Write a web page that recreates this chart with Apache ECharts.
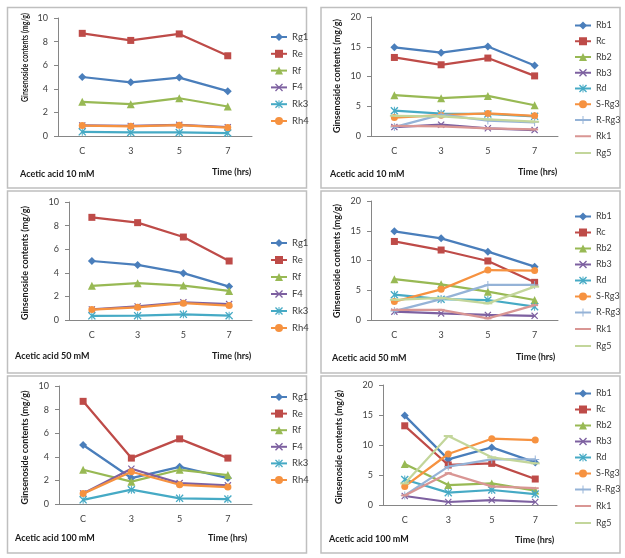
<!DOCTYPE html>
<html><head><meta charset="utf-8">
<script src="https://cdn.jsdelivr.net/npm/echarts@6/dist/echarts.min.js"></script>
<style>html,body{margin:0;padding:0;background:#fff}#c{width:625px;height:558px}</style>
</head><body><div id="c"></div>
<script>
// ---------- DATA ----------
const categories = ['C', '3', '5', '7'];
const namesA = ['Rg1', 'Re', 'Rf', 'F4', 'Rk3', 'Rh4'];
const namesB = ['Rb1', 'Rc', 'Rb2', 'Rb3', 'Rd', 'S-Rg3', 'R-Rg3', 'Rk1', 'Rg5'];
const ticksA = [0, 2, 4, 6, 8, 10];
const ticksB = [0, 5, 10, 15, 20];

// Acetic acid 10 mM (rows follow namesA)
const protopanaxatriol10 = [
  [5.0, 4.55, 4.95, 3.8],
  [8.7, 8.1, 8.65, 6.8],
  [2.9, 2.7, 3.2, 2.5],
  [0.9, 0.85, 0.95, 0.75],
  [0.35, 0.3, 0.3, 0.25],
  [0.88, 0.82, 0.92, 0.72]
];
// Acetic acid 50 mM
const protopanaxatriol50 = [
  [5.0, 4.67, 3.97, 2.83],
  [8.7, 8.25, 7.03, 5.0],
  [2.9, 3.12, 2.92, 2.46],
  [0.9, 1.15, 1.5, 1.35],
  [0.35, 0.37, 0.48, 0.37],
  [0.88, 1.08, 1.42, 1.22]
];
// Acetic acid 100 mM
const protopanaxatriol100 = [
  [5.0, 2.2, 3.15, 2.2],
  [8.7, 3.89, 5.52, 3.89],
  [2.9, 1.89, 2.9, 2.45],
  [0.9, 2.99, 1.77, 1.58],
  [0.35, 1.21, 0.48, 0.42],
  [0.88, 2.73, 1.63, 1.44]
];
// Acetic acid 10 mM (rows follow namesB)
const protopanaxadiol10 = [
  [14.9, 14.0, 15.05, 11.85],
  [13.2, 11.97, 13.1, 10.1],
  [6.85, 6.35, 6.74, 5.17],
  [1.5, 1.9, 1.3, 1.0],
  [4.25, 3.75, 3.7, 3.3],
  [3.1, 3.5, 3.8, 3.4],
  [1.5, 3.6, 2.6, 2.3],
  [1.7, 1.6, 1.3, 1.1],
  [3.4, 3.3, 2.8, 2.4]
];
// Acetic acid 50 mM
const protopanaxadiol50 = [
  [14.9, 13.73, 11.49, 8.96],
  [13.2, 11.76, 9.92, 6.33],
  [6.85, 5.99, 4.76, 3.36],
  [1.4, 1.1, 0.85, 0.7],
  [4.25, 3.5, 3.36, 2.24],
  [3.1, 5.15, 8.4, 8.3],
  [1.5, 3.5, 5.9, 5.9],
  [1.7, 1.7, 0.28, 2.5],
  [3.4, 3.7, 2.8, 5.6]
];
// Acetic acid 100 mM
const protopanaxadiol100 = [
  [14.9, 7.6, 9.6, 7.1],
  [13.2, 6.67, 6.94, 4.33],
  [6.85, 3.33, 3.6, 2.4],
  [1.5, 0.5, 0.83, 0.5],
  [4.25, 2.06, 2.5, 1.83],
  [3.1, 8.5, 11.05, 10.83],
  [1.6, 6.4, 7.6, 7.6],
  [1.6, 5.3, 3.1, 2.8],
  [3.6, 11.5, 7.94, 6.94]
];
const panelLabels = ['Acetic acid 10 mM', 'Acetic acid 10 mM', 'Acetic acid 50 mM', 'Acetic acid 50 mM', 'Acetic acid 100 mM', 'Acetic acid 100 mM'];
const yTitle = 'Ginsenoside contents (mg/g)';
const xTitle = 'Time (hrs)';

// ---------- STYLE / LAYOUT ----------
const FONT = 'Lato';
const colors = ['#4A7EBB', '#BE4B48', '#98B954', '#7D60A0', '#46AAC5', '#F69240', '#95B3D7', '#D99694', '#C3D69B'];
const X = 'path://M0,1.2 L1.2,0 L5,3.8 L8.8,0 L10,1.2 L6.2,5 L10,8.8 L8.8,10 L5,6.2 L1.2,10 L0,8.8 L3.8,5 Z';
const AST = 'path://M0,1.2 L1.2,0 L5,3.8 L8.8,0 L10,1.2 L6.2,5 L10,8.8 L8.8,10 L5,6.2 L1.2,10 L0,8.8 L3.8,5 Z M4.4,0 L5.6,0 L5.6,10 L4.4,10 Z';
const PLUS = 'path://M4.4,0 L5.6,0 L5.6,4.4 L10,4.4 L10,5.6 L5.6,5.6 L5.6,10 L4.4,10 L4.4,5.6 L0,5.6 L0,4.4 L4.4,4.4 Z';
const DASH = 'path://M0,0 L10,0 L10,2 L0,2 Z';
const LINEICON = 'path://M0,0 L0.01,0 Z M0,3.9 L16,3.9 L16,6.1 L0,6.1 Z M0,10 L0.01,10 Z';
const symbols = ['diamond', 'rect', 'triangle', X, AST, 'circle', PLUS, DASH, DASH];
const symSizes = [8, 7, 8, 7, 8, 7, 8, [7, 2], [9, 2]];

const panels = [
  { data: protopanaxatriol10, names: namesA, ticks: ticksA,
    grid: { left: 58, top: 18, width: 194, height: 118 }, leg: { left: 265, top: 27, gap: 6.8, fs: 9.5 },
    yname: [25, 57.5, 0.78], lab: [20, 174], time: [212, 172] },
  { data: protopanaxadiol10, names: namesB, ticks: ticksB,
    grid: { left: 371, top: 17, width: 187, height: 119 }, leg: { left: 569, top: 16, gap: 6.75, fs: 9 },
    yname: [337, 76, 1], lab: [330, 174], time: [518, 172] },
  { data: protopanaxatriol50, names: namesA, ticks: ticksA,
    grid: { left: 69, top: 202, width: 183, height: 118 }, leg: { left: 265, top: 233, gap: 7, fs: 9.5 },
    yname: [25, 263, 1], lab: [15, 356], time: [212, 356] },
  { data: protopanaxadiol50, names: namesB, ticks: ticksB,
    grid: { left: 371, top: 201, width: 187, height: 119 }, leg: { left: 569, top: 207, gap: 7, fs: 9 },
    yname: [337, 261, 1], lab: [332, 358], time: [516, 357] },
  { data: protopanaxatriol100, names: namesA, ticks: ticksA,
    grid: { left: 59, top: 386, width: 193, height: 118 }, leg: { left: 265, top: 387, gap: 6.6, fs: 9.5 },
    yname: [25, 447.5, 1], lab: [15, 538], time: [208, 538] },
  { data: protopanaxadiol100, names: namesB, ticks: ticksB,
    grid: { left: 383, top: 385, width: 174, height: 120 }, leg: { left: 569, top: 384, gap: 7, fs: 9 },
    yname: [339, 447, 1], lab: [329, 539], time: [515, 540] }
];

const boxes = [
  [7.5, 7.5, 299, 180.5], [321, 7.5, 299, 180.5],
  [7.5, 191, 299, 182], [321, 191, 299, 182],
  [7.5, 376, 299, 177], [321, 376, 299, 177]
];

const grid = [], xAxis = [], yAxis = [], series = [], legend = [], graphic = [];
boxes.forEach(b => graphic.push({ type: 'rect', shape: { x: b[0], y: b[1], width: b[2], height: b[3] },
  style: { fill: 'none', stroke: '#BFBFBF', lineWidth: 1.5 }, z: -1 }));

panels.forEach((p, pi) => {
  grid.push(Object.assign({ containLabel: false }, p.grid));
  xAxis.push({ type: 'category', gridIndex: pi, data: categories, boundaryGap: true,
    axisLine: { lineStyle: { color: '#868686', width: 1 } }, axisTick: { show: false },
    axisLabel: { fontSize: 9, color: '#404040', fontFamily: FONT, margin: 11 } });
  const t = p.ticks;
  yAxis.push({ type: 'value', gridIndex: pi, min: t[0], max: t[t.length - 1], interval: t[1] - t[0],
    axisLine: { show: true, lineStyle: { color: '#868686', width: 1 } },
    axisTick: { show: true, length: 4, lineStyle: { color: '#868686' } },
    splitLine: { show: false },
    axisLabel: { fontSize: 9, color: '#404040', fontFamily: FONT, margin: 10 } });
  p.names.forEach((n, i) => {
    series.push({ type: 'line', name: n, xAxisIndex: pi, yAxisIndex: pi, data: p.data[i],
      symbol: symbols[i], symbolSize: symSizes[i], showSymbol: true,
      lineStyle: { width: 2.25, color: colors[i] }, itemStyle: { color: colors[i] },
      animation: false, z: 2 + i * 0.01 });
  });
  legend.push({ data: p.names.map((n, i) => symbols[i] === DASH ? { name: n, icon: LINEICON } : n),
    orient: 'vertical', left: p.leg.left, top: p.leg.top,
    itemWidth: 16, itemHeight: 10, itemGap: p.leg.gap, selectedMode: false,
    textStyle: { fontSize: p.leg.fs, color: '#404040', fontFamily: FONT } });
  graphic.push({ type: 'text', x: p.yname[0], y: p.yname[1], rotation: Math.PI / 2, scaleX: p.yname[2],
    style: { text: yTitle, fontSize: 9, fontWeight: 'bold', fontFamily: FONT, fill: '#1a1a1a', align: 'center', verticalAlign: 'middle' } });
  graphic.push({ type: 'text', x: p.lab[0], y: p.lab[1],
    style: { text: panelLabels[pi], fontSize: 9, fontWeight: 'bold', fontFamily: FONT, fill: '#1a1a1a', align: 'left', verticalAlign: 'middle' } });
  graphic.push({ type: 'text', x: p.time[0], y: p.time[1],
    style: { text: xTitle, fontSize: 9, fontWeight: 'bold', fontFamily: FONT, fill: '#1a1a1a', align: 'left', verticalAlign: 'middle' } });
});

const chart = echarts.init(document.getElementById('c'), null, { renderer: 'canvas' });
chart.setOption({ backgroundColor: '#ffffff', animation: false, grid, xAxis, yAxis, series, legend, graphic });
</script></body></html>
